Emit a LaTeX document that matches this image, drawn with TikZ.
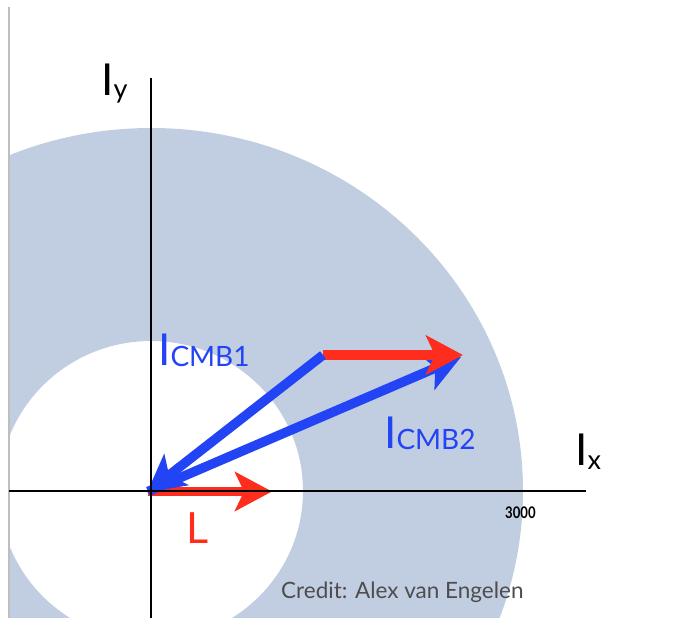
\documentclass[tikz,border=0pt]{standalone}
\usepackage{fontspec}
\setmainfont{Lato}
\usetikzlibrary{arrows.meta}
\definecolor{ringfill}{RGB}{193,206,226}
\definecolor{vblue}{RGB}{34,68,245}
\definecolor{vred}{RGB}{255,45,30}
\definecolor{credgray}{RGB}{77,77,77}
\definecolor{edgegray}{RGB}{190,190,190}
\tikzset{
  vec/.style={line width=9.5pt, -{Stealth[length=37pt,width=39pt,inset=9pt]}},
  redvec/.style={vec, draw=vred, fill=vred},
  bluevec/.style={vec, draw=vblue, fill=vblue},
  axis/.style={draw=black, line width=1.6pt},
  biglabel/.style={inner sep=0pt, anchor=base west, font=\fontsize{44}{44}\selectfont},
}
\newcommand{\subtxt}[1]{{\fontsize{27}{27}\selectfont #1}}
\begin{document}
\begin{tikzpicture}[x=1pt,y=-1pt]
\useasboundingbox (0,0) rectangle (677,618);
% annulus
\begin{scope}
  \clip (9,0) rectangle (677,618);
  \fill[ringfill, even odd rule] (151,491) ellipse [x radius=372, y radius=363]
                                 (151,491) ellipse [x radius=152, y radius=150];
\end{scope}
\draw[edgegray, line width=1.5pt] (9,7) -- (9,618);
% coordinates
\coordinate (O) at (148,491.5);
\coordinate (P) at (323,355);
\coordinate (Q) at (463,355);
\coordinate (Lend) at (272,491.5);
\coordinate (Oblue) at (147,492.5);
\coordinate (Qblue) at (461,357);
% vectors
\draw[redvec] (O) -- (Lend);
\draw[bluevec] (O) -- (Qblue);
\draw[redvec] (P) -- (Q);
\draw[bluevec, shorten <=0pt] (P) -- (Oblue);
% axes
\coordinate (xl) at (9,491);
\coordinate (xr) at (586,491);
\coordinate (yt) at (151,78);
\coordinate (yb) at (151,618);
\draw[axis] (xl) -- (xr);
\draw[axis] (yt) -- (yb);
% labels
\node[biglabel] (iy) at (101,95) {I\raisebox{-4pt}{\subtxt{y}}};
\node[biglabel] (ix) at (575,465) {I\raisebox{-4pt}{\subtxt{x}}};
\node[biglabel, text=vblue] (c1) at (158,365) {I\raisebox{-1pt}{\fontsize{28}{28}\selectfont CMB1}};
\node[biglabel, text=vblue] (c2) at (384,448) {I\raisebox{-1pt}{\fontsize{28}{28}\selectfont CMB2}};
\node[biglabel, text=vred, font=\fontsize{43}{43}\selectfont] (lab) at (186,543) {L};
\node[inner sep=0pt, anchor=base west] (tick) at (505,518) {\scalebox{0.82}[1]{\fontsize{16}{16}\selectfont\bfseries 3000}};
\node[inner sep=0pt, anchor=base west, text=credgray, font=\fontsize{22.5}{22.5}\selectfont] (cred) at (281,598) {Credit: Alex van Engelen};
\end{tikzpicture}
\end{document}
